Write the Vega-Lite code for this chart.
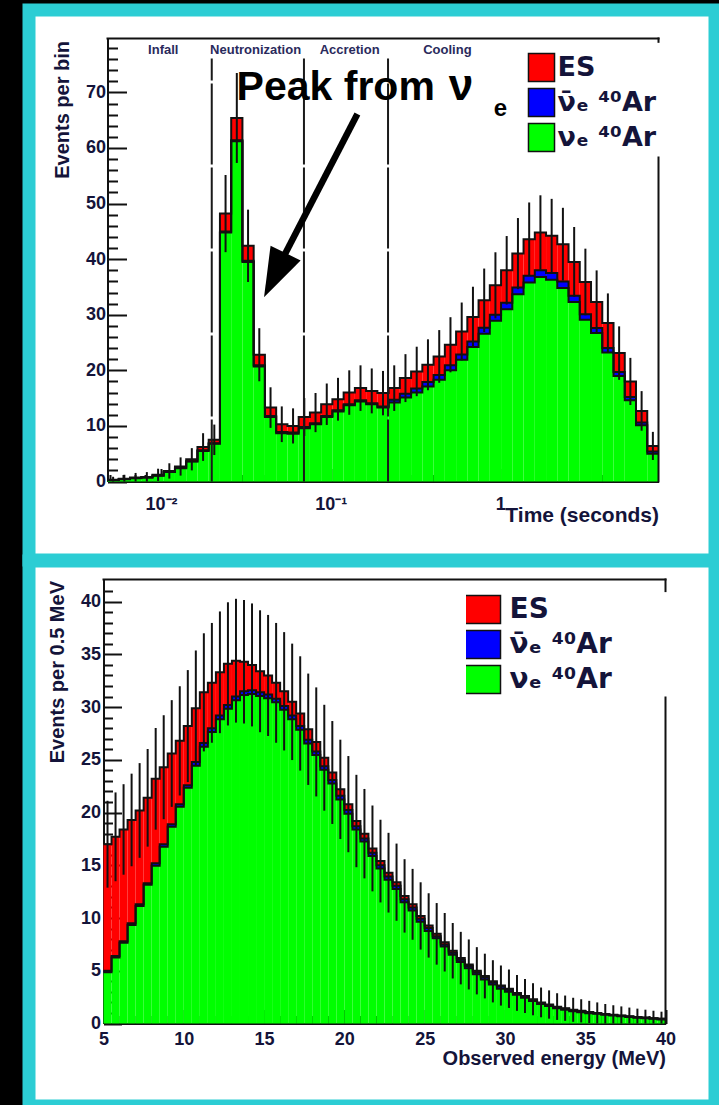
{
"$schema": "https://vega.github.io/schema/vega-lite/v6.json",
"background": "#000000",
"padding": {"left": 22, "top": 3, "right": 0, "bottom": 0},
"bounds": "flush",
"spacing": 1,
"config": {
  "view": {"stroke": "#2ccdd4", "strokeWidth": 13, "fill": "#ffffff"},
  "font": "Liberation Sans",
  "axis": {"grid": false, "tickColor": "#111111", "tickWidth": 2, "domainColor": "#111111", "domainWidth": 2, "labelFont": "Liberation Sans", "labelFontWeight": "bold", "labelFontSize": 18, "labelColor": "#14143a", "labelFlush": false, "labelOverlap": false, "titleFont": "Liberation Sans", "titleFontWeight": "bold", "titleFontSize": 20, "titleColor": "#14143a", "zindex": 1}
},
"resolve": {"scale": {"color": "independent"}},
"datasets": {
"tt": [
{"lo":0.004831,"hi":0.005628,"c":0.005214,"g":0.25,"gb":0.26,"t":0.3,"el":0,"eh":0.85},
{"lo":0.005628,"hi":0.006555,"c":0.006074,"g":0.42,"gb":0.44,"t":0.5,"el":0,"eh":1.21},
{"lo":0.006555,"hi":0.007638,"c":0.007075,"g":0.6,"gb":0.62,"t":0.7,"el":0,"eh":1.54},
{"lo":0.007638,"hi":0.008898,"c":0.008244,"g":0.7,"gb":0.72,"t":0.8,"el":0,"eh":1.69},
{"lo":0.008898,"hi":0.010366,"c":0.009604,"g":1.05,"gb":1.08,"t":1.2,"el":0.1,"eh":2.3},
{"lo":0.010366,"hi":0.012076,"c":0.011188,"g":1.7,"gb":1.73,"t":1.9,"el":0.52,"eh":3.28},
{"lo":0.012076,"hi":0.014065,"c":0.013034,"g":2.4,"gb":2.45,"t":2.7,"el":1.06,"eh":4.34},
{"lo":0.014065,"hi":0.01639,"c":0.01518,"g":3.6,"gb":3.65,"t":4.0,"el":2.0,"eh":6.0},
{"lo":0.01639,"hi":0.019089,"c":0.01769,"g":5.5,"gb":5.6,"t":6.2,"el":3.71,"eh":8.69},
{"lo":0.019089,"hi":0.022241,"c":0.020603,"g":6.8,"gb":6.9,"t":7.5,"el":4.76,"eh":10.24},
{"lo":0.022241,"hi":0.025912,"c":0.024005,"g":44.8,"gb":45.0,"t":48.2,"el":41.26,"eh":55.14},
{"lo":0.025912,"hi":0.030185,"c":0.027967,"g":61.2,"gb":61.4,"t":65.4,"el":57.31,"eh":73.49},
{"lo":0.030185,"hi":0.035164,"c":0.032579,"g":39.5,"gb":39.7,"t":42.4,"el":35.89,"eh":48.91},
{"lo":0.035164,"hi":0.040963,"c":0.037952,"g":20.7,"gb":20.9,"t":22.8,"el":18.03,"eh":27.58},
{"lo":0.040963,"hi":0.04772,"c":0.044211,"g":11.6,"gb":11.8,"t":13.3,"el":9.65,"eh":16.95},
{"lo":0.04772,"hi":0.055614,"c":0.051504,"g":8.7,"gb":8.9,"t":10.3,"el":7.09,"eh":13.51},
{"lo":0.055614,"hi":0.06479,"c":0.060024,"g":8.6,"gb":8.8,"t":10.0,"el":6.84,"eh":13.16},
{"lo":0.06479,"hi":0.075474,"c":0.069928,"g":9.6,"gb":9.8,"t":11.6,"el":8.19,"eh":15.01},
{"lo":0.075474,"hi":0.087902,"c":0.081459,"g":10.3,"gb":10.5,"t":12.4,"el":8.88,"eh":15.92},
{"lo":0.087902,"hi":0.1024,"c":0.094873,"g":11.6,"gb":11.8,"t":13.9,"el":10.17,"eh":17.63},
{"lo":0.1024,"hi":0.11929,"c":0.11052,"g":12.6,"gb":12.8,"t":14.8,"el":10.95,"eh":18.65},
{"lo":0.11929,"hi":0.139,"c":0.12875,"g":13.7,"gb":13.9,"t":16.0,"el":12.0,"eh":20.0},
{"lo":0.139,"hi":0.16192,"c":0.15002,"g":14.4,"gb":14.6,"t":16.8,"el":12.7,"eh":20.9},
{"lo":0.16192,"hi":0.18862,"c":0.17476,"g":13.9,"gb":14.1,"t":16.3,"el":12.26,"eh":20.34},
{"lo":0.18862,"hi":0.21973,"c":0.20358,"g":13.3,"gb":13.5,"t":15.9,"el":11.91,"eh":19.89},
{"lo":0.21973,"hi":0.25594,"c":0.23715,"g":14.2,"gb":14.7,"t":16.8,"el":12.7,"eh":20.9},
{"lo":0.25594,"hi":0.29819,"c":0.27624,"g":15.1,"gb":15.8,"t":18.6,"el":14.29,"eh":22.91},
{"lo":0.29819,"hi":0.34735,"c":0.32184,"g":16.0,"gb":16.75,"t":19.8,"el":15.35,"eh":24.25},
{"lo":0.34735,"hi":0.40477,"c":0.37489,"g":17.1,"gb":17.9,"t":21.0,"el":16.42,"eh":25.58},
{"lo":0.40477,"hi":0.47152,"c":0.43687,"g":18.3,"gb":19.15,"t":22.5,"el":17.76,"eh":27.24},
{"lo":0.47152,"hi":0.54931,"c":0.50891,"g":20.0,"gb":20.9,"t":24.6,"el":19.64,"eh":29.56},
{"lo":0.54931,"hi":0.6399,"c":0.59287,"g":21.9,"gb":22.85,"t":27.0,"el":21.8,"eh":32.2},
{"lo":0.6399,"hi":0.74541,"c":0.69064,"g":24.2,"gb":25.2,"t":29.6,"el":24.16,"eh":35.04},
{"lo":0.74541,"hi":0.86833,"c":0.80452,"g":26.6,"gb":27.65,"t":32.6,"el":26.89,"eh":38.31},
{"lo":0.86833,"hi":1.0118,"c":0.93719,"g":28.9,"gb":30.0,"t":35.3,"el":29.36,"eh":41.24},
{"lo":1.0118,"hi":1.1787,"c":1.092,"g":31.0,"gb":32.15,"t":38.0,"el":31.84,"eh":44.16},
{"lo":1.1787,"hi":1.373,"c":1.2722,"g":33.7,"gb":34.9,"t":41.0,"el":34.6,"eh":47.4},
{"lo":1.373,"hi":1.5996,"c":1.4819,"g":35.8,"gb":37.0,"t":43.6,"el":37.0,"eh":50.2},
{"lo":1.5996,"hi":1.8634,"c":1.7264,"g":36.8,"gb":38.0,"t":44.8,"el":38.11,"eh":51.49},
{"lo":1.8634,"hi":2.1707,"c":2.0112,"g":36.3,"gb":37.5,"t":44.2,"el":37.55,"eh":50.85},
{"lo":2.1707,"hi":2.5293,"c":2.3428,"g":34.8,"gb":36.0,"t":42.7,"el":36.17,"eh":49.24},
{"lo":2.5293,"hi":2.9458,"c":2.7299,"g":32.3,"gb":33.4,"t":39.5,"el":33.22,"eh":45.79},
{"lo":2.9458,"hi":3.4317,"c":3.1794,"g":29.1,"gb":30.1,"t":35.9,"el":29.91,"eh":41.89},
{"lo":3.4317,"hi":3.9984,"c":3.7038,"g":26.7,"gb":27.6,"t":32.3,"el":26.62,"eh":37.98},
{"lo":3.9984,"hi":4.658,"c":4.3155,"g":23.2,"gb":24.0,"t":28.5,"el":23.16,"eh":33.84},
{"lo":4.658,"hi":5.4263,"c":5.0274,"g":19.0,"gb":19.7,"t":23.1,"el":18.29,"eh":27.91},
{"lo":5.4263,"hi":6.321,"c":5.8566,"g":14.6,"gb":15.2,"t":18.0,"el":13.76,"eh":22.24},
{"lo":6.321,"hi":7.3655,"c":6.8223,"g":10.1,"gb":10.6,"t":12.7,"el":9.14,"eh":16.26},
{"lo":7.3655,"hi":8.5804,"c":7.9496,"g":5.0,"gb":5.4,"t":6.4,"el":3.87,"eh":8.93},
{"lo":8.5804,"hi":8.5804,"c":8.5804,"g":5.0,"gb":5.4,"t":6.4,"el":6.4,"eh":6.4}
],
"ee": [
{"lo":5,"hi":5.5,"c":5.25,"g":4.85,"gb":5.0,"t":17.0,"el":12.88,"eh":21.12},
{"lo":5.5,"hi":6,"c":5.75,"g":6.25,"gb":6.4,"t":17.7,"el":13.49,"eh":21.91},
{"lo":6,"hi":6.5,"c":6.25,"g":7.65,"gb":7.8,"t":18.4,"el":14.11,"eh":22.69},
{"lo":6.5,"hi":7,"c":6.75,"g":9.35,"gb":9.5,"t":19.3,"el":14.91,"eh":23.69},
{"lo":7,"hi":7.5,"c":7.25,"g":11.15,"gb":11.3,"t":20.2,"el":15.71,"eh":24.69},
{"lo":7.5,"hi":8,"c":7.75,"g":13.15,"gb":13.3,"t":21.4,"el":16.77,"eh":26.03},
{"lo":8,"hi":8.5,"c":8.25,"g":14.95,"gb":15.2,"t":23.2,"el":18.38,"eh":28.02},
{"lo":8.5,"hi":9,"c":8.75,"g":16.75,"gb":17.0,"t":24.3,"el":19.37,"eh":29.23},
{"lo":9,"hi":9.5,"c":9.25,"g":18.65,"gb":18.9,"t":25.6,"el":20.54,"eh":30.66},
{"lo":9.5,"hi":10,"c":9.75,"g":20.55,"gb":20.8,"t":26.8,"el":21.62,"eh":31.98},
{"lo":10,"hi":10.5,"c":10.25,"g":22.35,"gb":22.6,"t":28.2,"el":22.89,"eh":33.51},
{"lo":10.5,"hi":11,"c":10.75,"g":24.45,"gb":24.8,"t":29.9,"el":24.43,"eh":35.37},
{"lo":11,"hi":11.5,"c":11.25,"g":26.25,"gb":26.6,"t":31.4,"el":25.8,"eh":37.0},
{"lo":11.5,"hi":12,"c":11.75,"g":27.65,"gb":28.0,"t":32.3,"el":26.62,"eh":37.98},
{"lo":12,"hi":12.5,"c":12.25,"g":28.85,"gb":29.2,"t":33.3,"el":27.53,"eh":39.07},
{"lo":12.5,"hi":13,"c":12.75,"g":29.85,"gb":30.2,"t":34.1,"el":28.26,"eh":39.94},
{"lo":13,"hi":13.5,"c":13.25,"g":30.65,"gb":31.0,"t":34.4,"el":28.53,"eh":40.27},
{"lo":13.5,"hi":14,"c":13.75,"g":31.15,"gb":31.5,"t":34.3,"el":28.44,"eh":40.16},
{"lo":14,"hi":14.5,"c":14.25,"g":31.25,"gb":31.6,"t":34.0,"el":28.17,"eh":39.83},
{"lo":14.5,"hi":15,"c":14.75,"g":31.05,"gb":31.4,"t":33.4,"el":27.62,"eh":39.18},
{"lo":15,"hi":15.5,"c":15.25,"g":30.85,"gb":31.2,"t":33.0,"el":27.26,"eh":38.74},
{"lo":15.5,"hi":16,"c":15.75,"g":30.45,"gb":30.8,"t":32.3,"el":26.62,"eh":37.98},
{"lo":16,"hi":16.5,"c":16.25,"g":29.75,"gb":30.1,"t":31.5,"el":25.89,"eh":37.11},
{"lo":16.5,"hi":17,"c":16.75,"g":28.85,"gb":29.2,"t":30.5,"el":24.98,"eh":36.02},
{"lo":17,"hi":17.5,"c":17.25,"g":27.85,"gb":28.2,"t":29.4,"el":23.98,"eh":34.82},
{"lo":17.5,"hi":18,"c":17.75,"g":26.55,"gb":26.9,"t":27.9,"el":22.62,"eh":33.18},
{"lo":18,"hi":18.5,"c":18.25,"g":25.45,"gb":25.8,"t":26.7,"el":21.53,"eh":31.87},
{"lo":18.5,"hi":19,"c":18.75,"g":24.05,"gb":24.4,"t":25.2,"el":20.18,"eh":30.22},
{"lo":19,"hi":19.5,"c":19.25,"g":22.75,"gb":23.1,"t":23.8,"el":18.92,"eh":28.68},
{"lo":19.5,"hi":20,"c":19.75,"g":21.25,"gb":21.6,"t":22.2,"el":17.49,"eh":26.91},
{"lo":20,"hi":20.5,"c":20.25,"g":19.9,"gb":20.25,"t":20.8,"el":16.24,"eh":25.36},
{"lo":20.5,"hi":21,"c":20.75,"g":18.4,"gb":18.7,"t":19.2,"el":14.82,"eh":23.58},
{"lo":21,"hi":21.5,"c":21.25,"g":17.25,"gb":17.55,"t":18.0,"el":13.76,"eh":22.24},
{"lo":21.5,"hi":22,"c":21.75,"g":15.88,"gb":16.18,"t":16.6,"el":12.53,"eh":20.67},
{"lo":22,"hi":22.5,"c":22.25,"g":14.7,"gb":15.0,"t":15.4,"el":11.48,"eh":19.32},
{"lo":22.5,"hi":23,"c":22.75,"g":13.63,"gb":13.93,"t":14.3,"el":10.52,"eh":18.08},
{"lo":23,"hi":23.5,"c":23.25,"g":12.76,"gb":13.06,"t":13.4,"el":9.74,"eh":17.06},
{"lo":23.5,"hi":24,"c":23.75,"g":11.49,"gb":11.79,"t":12.1,"el":8.62,"eh":15.58},
{"lo":24,"hi":24.5,"c":24.25,"g":10.71,"gb":11.01,"t":11.3,"el":7.94,"eh":14.66},
{"lo":24.5,"hi":25,"c":24.75,"g":9.64,"gb":9.94,"t":10.2,"el":7.01,"eh":13.39},
{"lo":25,"hi":25.5,"c":25.25,"g":8.76,"gb":9.06,"t":9.3,"el":6.25,"eh":12.35},
{"lo":25.5,"hi":26,"c":25.75,"g":8.08,"gb":8.28,"t":8.5,"el":5.58,"eh":11.42},
{"lo":26,"hi":26.5,"c":26.25,"g":7.3,"gb":7.5,"t":7.7,"el":4.93,"eh":10.48},
{"lo":26.5,"hi":27,"c":26.75,"g":6.52,"gb":6.72,"t":6.9,"el":4.27,"eh":9.53},
{"lo":27,"hi":27.5,"c":27.25,"g":5.84,"gb":6.04,"t":6.2,"el":3.71,"eh":8.69},
{"lo":27.5,"hi":28,"c":27.75,"g":5.25,"gb":5.45,"t":5.6,"el":3.23,"eh":7.97},
{"lo":28,"hi":28.5,"c":28.25,"g":4.67,"gb":4.87,"t":5.0,"el":2.76,"eh":7.24},
{"lo":28.5,"hi":29,"c":28.75,"g":4.18,"gb":4.38,"t":4.5,"el":2.38,"eh":6.62},
{"lo":29,"hi":29.5,"c":29.25,"g":3.69,"gb":3.89,"t":4.0,"el":2.0,"eh":6.0},
{"lo":29.5,"hi":30,"c":29.75,"g":3.3,"gb":3.5,"t":3.6,"el":1.7,"eh":5.5},
{"lo":30,"hi":30.5,"c":30.25,"g":3.01,"gb":3.21,"t":3.3,"el":1.48,"eh":5.12},
{"lo":30.5,"hi":31,"c":30.75,"g":2.72,"gb":2.82,"t":2.9,"el":1.2,"eh":4.6},
{"lo":31,"hi":31.5,"c":31.25,"g":2.43,"gb":2.53,"t":2.6,"el":0.99,"eh":4.21},
{"lo":31.5,"hi":32,"c":31.75,"g":2.14,"gb":2.24,"t":2.3,"el":0.78,"eh":3.82},
{"lo":32,"hi":32.5,"c":32.25,"g":1.84,"gb":1.94,"t":2.0,"el":0.59,"eh":3.41},
{"lo":32.5,"hi":33,"c":32.75,"g":1.65,"gb":1.75,"t":1.8,"el":0.46,"eh":3.14},
{"lo":33,"hi":33.5,"c":33.25,"g":1.45,"gb":1.55,"t":1.6,"el":0.34,"eh":2.87},
{"lo":33.5,"hi":34,"c":33.75,"g":1.31,"gb":1.41,"t":1.45,"el":0.25,"eh":2.65},
{"lo":34,"hi":34.5,"c":34.25,"g":1.16,"gb":1.26,"t":1.3,"el":0.16,"eh":2.44},
{"lo":34.5,"hi":35,"c":34.75,"g":1.07,"gb":1.17,"t":1.2,"el":0.1,"eh":2.3},
{"lo":35,"hi":35.5,"c":35.25,"g":0.97,"gb":1.07,"t":1.1,"el":0.05,"eh":2.15},
{"lo":35.5,"hi":36,"c":35.75,"g":0.92,"gb":0.97,"t":1.0,"el":0,"eh":2.0},
{"lo":36,"hi":36.5,"c":36.25,"g":0.83,"gb":0.88,"t":0.9,"el":0,"eh":1.85},
{"lo":36.5,"hi":37,"c":36.75,"g":0.75,"gb":0.8,"t":0.82,"el":0,"eh":1.73},
{"lo":37,"hi":37.5,"c":37.25,"g":0.68,"gb":0.73,"t":0.75,"el":0,"eh":1.62},
{"lo":37.5,"hi":38,"c":37.75,"g":0.61,"gb":0.66,"t":0.68,"el":0,"eh":1.51},
{"lo":38,"hi":38.5,"c":38.25,"g":0.55,"gb":0.6,"t":0.62,"el":0,"eh":1.41},
{"lo":38.5,"hi":39,"c":38.75,"g":0.5,"gb":0.55,"t":0.56,"el":0,"eh":1.31},
{"lo":39,"hi":39.5,"c":39.25,"g":0.44,"gb":0.49,"t":0.5,"el":0,"eh":1.21},
{"lo":39.5,"hi":40,"c":39.75,"g":0.39,"gb":0.44,"t":0.45,"el":0,"eh":1.12},
{"lo":40,"hi":40,"c":40,"g":0.39,"gb":0.44,"t":0.45,"el":0.45,"eh":0.45}
]
},
"vconcat": [
{
 "width": 686, "height": 550,
 "resolve": {"axis": {"x": "independent", "y": "independent"}},
 "layer": [
  {"data": {"name": "tt"}, "mark": {"type": "rect"},
   "encoding": {
    "x": {"field": "lo", "type": "quantitative", "scale": {"type": "log", "domain": [0.004831, 8.5804], "range": [78.5, 629.5], "nice": false},
      "axis": {"orient": "bottom", "offset": -78.5, "values": [0.01, 0.1, 1], "tickSize": -13, "labelPadding": 27,
        "labelExpr": "datum.value < 0.05 ? '10⁻²' : (datum.value < 0.5 ? '10⁻¹' : '1')",
        "title": "Time (seconds)", "titleX": 629.5, "titleY": 34, "titleAlign": "right", "titleBaseline": "middle", "titleFontSize": 21}},
    "x2": {"field": "hi"},
    "y": {"field": "g", "type": "quantitative", "scale": {"domain": [0, 79.7], "range": [471.5, 28.5], "nice": false, "zero": false},
      "axis": {"orient": "left", "offset": -78.5, "values": [0, 10, 20, 30, 40, 50, 60, 70], "tickSize": -19, "labelPadding": 21,
        "title": "Events per bin", "titleX": -45, "titleY": 30.5, "titleAngle": 270, "titleAlign": "right", "titleBaseline": "middle"}},
    "y2": {"datum": 0},
    "color": {"datum": "νₑ ⁴⁰Ar", "type": "nominal",
      "scale": {"domain": ["ES", "ν̄ₑ ⁴⁰Ar", "νₑ ⁴⁰Ar"], "range": ["#ff0000", "#0000ff", "#00ff00"]},
      "legend": {"orient": "none", "legendX": 497.5, "legendY": 41.5, "title": null, "symbolType": "M-0.93,-1H0.93V1H-0.93Z", "symbolSize": 784, "symbolStrokeColor": "#111111", "symbolStrokeWidth": 1.5, "symbolOpacity": 1, "labelFont": "DejaVu Sans", "labelFontSize": 27, "labelFontWeight": "bold", "labelColor": "#14143a", "labelOffset": 1, "clipHeight": 32, "rowPadding": 3, "padding": 0, "labelLimit": 400}}
   }},
  {"data": {"name": "tt"}, "mark": {"type": "rect"},
   "encoding": {"x": {"field": "lo", "type": "quantitative", "axis": null}, "x2": {"field": "hi"}, "y": {"field": "gb", "type": "quantitative", "axis": null}, "y2": {"field": "g"}, "color": {"datum": "ν̄ₑ ⁴⁰Ar", "type": "nominal"}}},
  {"data": {"name": "tt"}, "mark": {"type": "rect"},
   "encoding": {"x": {"field": "lo", "type": "quantitative", "axis": null}, "x2": {"field": "hi"}, "y": {"field": "t", "type": "quantitative", "axis": null}, "y2": {"field": "gb"}, "color": {"datum": "ES", "type": "nominal"}}},
  {"data": {"name": "tt"}, "transform": [{"fold": ["g", "gb", "t"], "as": ["k", "v"]}],
   "mark": {"type": "line", "interpolate": "step-after", "color": "#111111", "strokeWidth": 2},
   "encoding": {"x": {"field": "lo", "type": "quantitative", "axis": null}, "y": {"field": "v", "type": "quantitative", "axis": null}, "detail": {"field": "k", "type": "nominal"}}},
  {"data": {"name": "tt"}, "mark": {"type": "rule", "color": "#111111", "strokeWidth": 2},
   "encoding": {"x": {"field": "c", "type": "quantitative", "axis": null}, "y": {"field": "el", "type": "quantitative", "axis": null}, "y2": {"field": "eh"}}},
  {"data": {"values": [{"t": 0.0199}, {"t": 0.0696}, {"t": 0.218}]},
   "mark": {"type": "rule", "color": "#1a1a1a", "strokeWidth": 2, "strokeDash": [81, 3], "strokeDashOffset": 59},
   "encoding": {"x": {"field": "t", "type": "quantitative", "axis": null}, "y": {"datum": 76.08, "type": "quantitative", "axis": null}, "y2": {"datum": 0}}},
  {"data": {"values": [{"x1": 0.004831, "x2": 8.5804, "y1": 79.7, "y2": 79.7}, {"x1": 8.5804, "x2": 8.5804, "y1": 79.7, "y2": 79.1}, {"x1": 8.5804, "x2": 8.5804, "y1": 58.3, "y2": 0}]},
   "mark": {"type": "rule", "color": "#111111", "strokeWidth": 2, "strokeCap": "square"},
   "encoding": {
    "x": {"field": "x1", "type": "quantitative", "axis": {"orient": "bottom", "offset": -78.5, "values": [0.005, 0.006, 0.007, 0.008, 0.009, 0.02, 0.03, 0.04, 0.05, 0.06, 0.07, 0.08, 0.09, 0.2, 0.3, 0.4, 0.5, 0.6, 0.7, 0.8, 0.9, 2, 3, 4, 5, 6, 7, 8], "tickSize": -7, "domain": false, "labels": false, "title": null}},
    "x2": {"field": "x2"},
    "y": {"field": "y1", "type": "quantitative", "axis": {"orient": "left", "offset": -78.5, "values": [2, 4, 6, 8, 12, 14, 16, 18, 22, 24, 26, 28, 32, 34, 36, 38, 42, 44, 46, 48, 52, 54, 56, 58, 62, 64, 66, 68, 72, 74, 76, 78], "tickSize": -10, "domain": false, "labels": false, "title": null}},
    "y2": {"field": "y2"}}},
  {"data": {"values": [{"t": 0.0103, "s": "Infall"}, {"t": 0.0361, "s": "Neutronization"}, {"t": 0.1294, "s": "Accretion"}, {"t": 0.4882, "s": "Cooling"}]},
   "mark": {"type": "text", "font": "Liberation Sans", "fontWeight": "bold", "fontSize": 13, "color": "#2a2a5c", "align": "center", "baseline": "middle"},
   "encoding": {"x": {"field": "t", "type": "quantitative", "axis": null}, "y": {"datum": 77.7, "type": "quantitative", "axis": null}, "text": {"field": "s"}}},
  {"data": {"values": [{}]},
   "mark": {"type": "text", "text": "Peak from", "font": "Liberation Sans", "fontWeight": "bold", "fontSize": 41, "color": "#000000", "align": "left", "baseline": "alphabetic"},
   "encoding": {"x": {"datum": 0.02788, "type": "quantitative", "axis": null}, "y": {"datum": 68.65, "type": "quantitative", "axis": null}}},
  {"data": {"values": [{}]},
   "mark": {"type": "text", "text": "ν", "font": "Liberation Sans", "fontWeight": "bold", "fontSize": 44, "color": "#000000", "align": "left", "baseline": "alphabetic"},
   "encoding": {"x": {"datum": 0.4968, "type": "quantitative", "axis": null}, "y": {"datum": 68.65, "type": "quantitative", "axis": null}}},
  {"data": {"values": [{}]},
   "mark": {"type": "text", "text": "e", "font": "Liberation Sans", "fontWeight": "bold", "fontSize": 24, "color": "#000000", "align": "left", "baseline": "alphabetic"},
   "encoding": {"x": {"datum": 0.9155, "type": "quantitative", "axis": null}, "y": {"datum": 65.8, "type": "quantitative", "axis": null}}},
  {"data": {"values": [{"xa": 0.1438, "ya": 66.13, "xb": 0.0514, "yb": 39.75}]},
   "mark": {"type": "rule", "color": "#000000", "strokeWidth": 6.5},
   "encoding": {"x": {"field": "xa", "type": "quantitative", "axis": null}, "y": {"field": "ya", "type": "quantitative", "axis": null}, "x2": {"field": "xb"}, "y2": {"field": "yb"}}},
  {"data": {"values": [{"xa": 0.04686, "ya": 37.12}]},
   "mark": {"type": "point", "shape": "M-0.68,-1L0.68,-1L0,1Z", "size": 2420, "angle": 26, "filled": true, "color": "#000000", "opacity": 1},
   "encoding": {"x": {"field": "xa", "type": "quantitative", "axis": null}, "y": {"field": "ya", "type": "quantitative", "axis": null}}}
 ]
},
{
 "width": 686, "height": 545,
 "resolve": {"axis": {"x": "independent", "y": "independent"}},
 "layer": [
  {"data": {"name": "ee"}, "mark": {"type": "rect"},
   "encoding": {
    "x": {"field": "lo", "type": "quantitative", "scale": {"domain": [5, 40], "range": [74.5, 636.5], "nice": false, "zero": false},
      "axis": {"orient": "bottom", "offset": -82.5, "values": [5, 10, 15, 20, 25, 30, 35, 40], "tickSize": -14, "labelPadding": 21,
        "title": "Observed energy (MeV)", "titleX": 636.5, "titleY": 35, "titleAlign": "right", "titleBaseline": "middle"}},
    "x2": {"field": "hi"},
    "y": {"field": "g", "type": "quantitative", "scale": {"domain": [0, 42.1], "range": [462.5, 18.5], "nice": false, "zero": false},
      "axis": {"orient": "left", "offset": -74.5, "values": [0, 5, 10, 15, 20, 25, 30, 35, 40], "tickSize": -18, "labelPadding": 21,
        "title": "Events per 0.5 MeV", "titleX": -46, "titleY": 19.5, "titleAngle": 270, "titleAlign": "right", "titleBaseline": "middle"}},
    "y2": {"datum": 0},
    "color": {"datum": "νₑ ⁴⁰Ar", "type": "nominal",
      "scale": {"domain": ["ES", "ν̄ₑ ⁴⁰Ar", "νₑ ⁴⁰Ar"], "range": ["#ff0000", "#0000ff", "#00ff00"]},
      "legend": {"orient": "none", "legendX": 437, "legendY": 32.5, "title": null, "symbolType": "M-1.393,-1H1.393V1H-1.393Z", "symbolSize": 784, "symbolStrokeColor": "#111111", "symbolStrokeWidth": 1.5, "symbolOpacity": 1, "labelFont": "DejaVu Sans", "labelFontSize": 28, "labelFontWeight": "bold", "labelColor": "#14143a", "labelOffset": 13.5, "clipHeight": 32, "rowPadding": 3, "padding": 0, "labelLimit": 400}}
   }},
  {"data": {"name": "ee"}, "mark": {"type": "rect"},
   "encoding": {"x": {"field": "lo", "type": "quantitative", "axis": null}, "x2": {"field": "hi"}, "y": {"field": "gb", "type": "quantitative", "axis": null}, "y2": {"field": "g"}, "color": {"datum": "ν̄ₑ ⁴⁰Ar", "type": "nominal"}}},
  {"data": {"name": "ee"}, "mark": {"type": "rect"},
   "encoding": {"x": {"field": "lo", "type": "quantitative", "axis": null}, "x2": {"field": "hi"}, "y": {"field": "t", "type": "quantitative", "axis": null}, "y2": {"field": "gb"}, "color": {"datum": "ES", "type": "nominal"}}},
  {"data": {"name": "ee"}, "transform": [{"fold": ["g", "gb", "t"], "as": ["k", "v"]}],
   "mark": {"type": "line", "interpolate": "step-after", "color": "#111111", "strokeWidth": 2},
   "encoding": {"x": {"field": "lo", "type": "quantitative", "axis": null}, "y": {"field": "v", "type": "quantitative", "axis": null}, "detail": {"field": "k", "type": "nominal"}}},
  {"data": {"name": "ee"}, "mark": {"type": "rule", "color": "#111111", "strokeWidth": 2},
   "encoding": {"x": {"field": "c", "type": "quantitative", "axis": null}, "y": {"field": "el", "type": "quantitative", "axis": null}, "y2": {"field": "eh"}}},
  {"data": {"values": [{"x1": 5, "x2": 40, "y1": 42.1, "y2": 42.1}, {"x1": 40, "x2": 40, "y1": 42.1, "y2": 41.0}, {"x1": 40, "x2": 40, "y1": 30.9, "y2": 0}]},
   "mark": {"type": "rule", "color": "#111111", "strokeWidth": 2, "strokeCap": "square"},
   "encoding": {
    "x": {"field": "x1", "type": "quantitative", "axis": {"orient": "bottom", "offset": -82.5, "values": [6, 7, 8, 9, 11, 12, 13, 14, 16, 17, 18, 19, 21, 22, 23, 24, 26, 27, 28, 29, 31, 32, 33, 34, 36, 37, 38, 39], "tickSize": -8, "domain": false, "labels": false, "title": null}},
    "x2": {"field": "x2"},
    "y": {"field": "y1", "type": "quantitative", "axis": {"orient": "left", "offset": -74.5, "values": [1, 2, 3, 4, 6, 7, 8, 9, 11, 12, 13, 14, 16, 17, 18, 19, 21, 22, 23, 24, 26, 27, 28, 29, 31, 32, 33, 34, 36, 37, 38, 39, 41], "tickSize": -9, "domain": false, "labels": false, "title": null}},
    "y2": {"field": "y2"}}}
 ]
}
]
}
